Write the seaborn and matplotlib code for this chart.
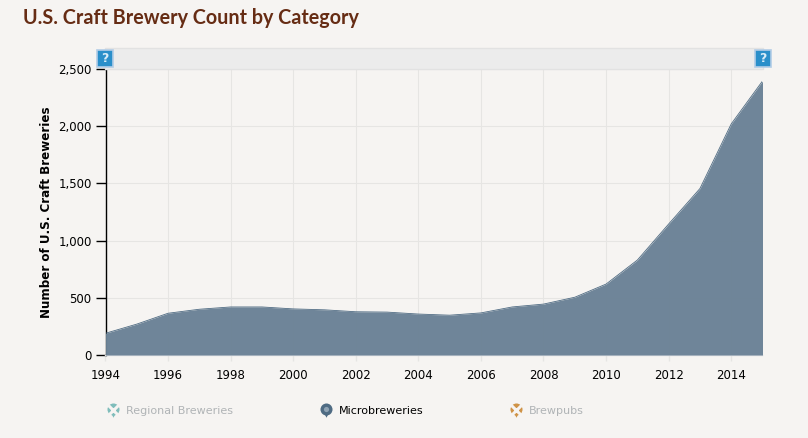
import numpy as np
import pandas as pd
import seaborn as sns
import matplotlib.pyplot as plt
from matplotlib.patches import Rectangle
from matplotlib.ticker import FuncFormatter

years = [1994, 1995, 1996, 1997, 1998, 1999, 2000, 2001, 2002, 2003, 2004,
         2005, 2006, 2007, 2008, 2009, 2010, 2011, 2012, 2013, 2014, 2015]
microbreweries = [190, 270, 365, 400, 420, 420, 403, 395, 378, 375, 358,
                  348, 368, 420, 445, 505, 620, 830, 1145, 1455, 2020, 2395]
x_ticks = [1994, 1996, 1998, 2000, 2002, 2004, 2006, 2008, 2010, 2012, 2014]
y_ticks = [0, 500, 1000, 1500, 2000, 2500]
legend_names = ['Regional Breweries', 'Microbreweries', 'Brewpubs']

W, H = 808, 438
BG = '#f6f4f2'
AREA = '#6e8497'
EDGE = '#4f6b83'
GRID = '#e6e5e3'

sns.set_theme(style='white', rc={'figure.facecolor': BG, 'axes.facecolor': BG})
plt.rcParams['font.family'] = ['DejaVu Sans']

df = pd.DataFrame({'year': years, 'count': microbreweries})

fig = plt.figure(figsize=(W / 100, H / 100), dpi=100)
left, right, top, bottom = 105.5, 762.5, 69, 355
ax = fig.add_axes([left / W, 1 - bottom / H, (right - left) / W, (bottom - top) / H])

ax.fill_between(df['year'], df['count'], 0, color='#6b8296', alpha=0.97, lw=0, zorder=3)
sns.lineplot(data=df, x='year', y='count', color=EDGE, lw=0.6, ax=ax, zorder=4)

ax.set_xlim(1994, 2015)
ax.set_ylim(0, 2500)
ax.set_xticks(x_ticks)
ax.set_yticks(y_ticks)
ax.yaxis.set_major_formatter(FuncFormatter(lambda v, p: f'{int(v):,}'))
ax.grid(True, color=GRID, lw=0.8)
ax.set_axisbelow(True)
ax.set_xlabel('')
ax.set_ylabel('Number of U.S. Craft Breweries', fontsize=8.6, fontweight='bold',
              color='black', labelpad=4)
ax.tick_params(axis='y', length=7, width=1, color='black', labelsize=8.5,
               labelcolor='black', left=True, pad=3)
ax.tick_params(axis='x', length=4, width=1, color=GRID, labelsize=8.5,
               labelcolor='black', bottom=True, pad=6)

for s in ['top', 'right']:
    ax.spines[s].set_visible(False)
ax.spines['left'].set_color('black')
ax.spines['left'].set_linewidth(1)
ax.spines['bottom'].set_color('#dcdfe2')
ax.spines['bottom'].set_linewidth(1)

# overlay in pixel coords for the page furniture around the chart
ov = fig.add_axes([0, 0, 1, 1], facecolor='none')
ov.set_xlim(0, W)
ov.set_ylim(H, 0)
ov.axis('off')

ov.text(23, 18, 'U.S. Craft Brewery Count by Category', fontsize=14.2, fontweight='bold',
        family='Lato', color='#662c14', va='center', ha='left')

ov.add_patch(Rectangle((105, 48), 658, 21, fc='#ececec', ec='#e2e2e2', lw=1))
for bx in (97, 755):
    ov.add_patch(Rectangle((bx, 50), 16, 17, fc='#2a8fca', ec='#b3cde6', lw=1.2, zorder=5))
    ov.text(bx + 8, 58.5, '?', fontsize=9, fontweight='bold', color='#d8ecf8',
            ha='center', va='center', zorder=6)

legend_x = [113, 326, 516]
legend_mark = ['#7fbdbb', '#4f6b83', '#cf9347']
legend_text = ['#b0b4b6', 'black', '#b0b4b6']
legend_active = [False, True, False]
for lx, name, mc, tc, on in zip(legend_x, legend_names, legend_mark, legend_text, legend_active):
    # pin shaped icon, the inactive ones get a pale cross over them
    ov.scatter([lx], [409], s=75, color=mc, marker='o', zorder=5, lw=0)
    ov.scatter([lx], [414], s=22, color=mc, marker='v', zorder=5, lw=0)
    if on:
        ov.scatter([lx], [409], s=14, color='#8fa3b4', marker='o', zorder=6, lw=0)
    else:
        ov.scatter([lx], [410], s=60, color=BG, marker='x', zorder=6, lw=2.2)
    ov.text(lx + 13, 411, name, fontsize=8.0, color=tc, ha='left', va='center')

fig.savefig('out.png', dpi=100, facecolor=BG)
